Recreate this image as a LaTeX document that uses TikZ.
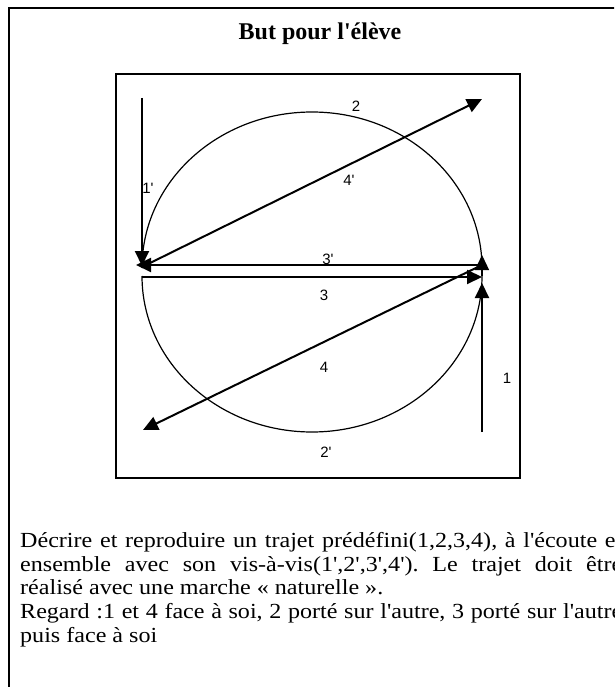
\documentclass[tikz,border=0pt]{standalone}
\usepackage{fontspec}
\newfontfamily\serifplain{Liberation Serif}
\newfontfamily\parafont{Liberation Serif}[FakeStretch=1.12]
\newfontfamily\labelfont{Liberation Sans}
\usetikzlibrary{arrows.meta}
\begin{document}
\begin{tikzpicture}[x=1pt,y=-1pt,
  framestyle/.style={line width=1.5pt},
  boxstyle/.style={line width=1.8pt},
  patharrow/.style={line width=2pt,-{Triangle[length=15pt,width=14pt]}},
  arcline/.style={line width=1.2pt},
  lbl/.style={font=\labelfont\fontsize{15}{15}\selectfont,inner sep=0pt}]
\useasboundingbox (0,0) rectangle (614,687);
\clip (0,0) rectangle (614,687);
% outer frame (cut by the page edges)
\draw[framestyle] (9,700) -- (9,8) -- (630,8);
% title
\node[font=\serifplain\bfseries\fontsize{24}{24}\selectfont,anchor=base,inner sep=0pt] (title) at (320,40) {But pour l'élève};
% inner box
\draw[boxstyle] (116,74) rectangle (520,478);
% coordinates
\coordinate (top1p) at (142,98);
\coordinate (Lj) at (142,266);
\coordinate (Rj) at (482,265);
\coordinate (Ltip) at (136,265);
\coordinate (L3) at (142,277);
\coordinate (R3) at (482,277);
\coordinate (bot1) at (482,432);
\coordinate (R1tip) at (482,283);
\coordinate (L4p) at (142,267);
\coordinate (TR) at (482,99);
\coordinate (BL) at (143,430);
\coordinate (UR) at (482,268);
\coordinate (DL) at (142,276);
\coordinate (DR) at (482,276);
\coordinate (R2ptip) at (482,255);
% arcs 2 and 2'
\draw[arcline] (UR) arc[start angle=0,end angle=180,x radius=170pt,y radius=156pt];
\draw[arcline] (DL) arc[start angle=180,end angle=360,x radius=170pt,y radius=156pt];
\draw[patharrow,line width=1.2pt] (DR) -- (R2ptip);
% straight moves
\draw[patharrow] (top1p) -- (Lj);   % 1'
\draw[patharrow] (Rj) -- (Ltip);    % 3'
\draw[patharrow] (L3) -- (R3);      % 3
\draw[patharrow] (bot1) -- (R1tip); % 1
\draw[patharrow] (L4p) -- (TR);     % 4'
\draw[patharrow] (Rj) -- (BL);      % 4
% labels
\node[lbl] (l2) at (356,106) {2};
\node[lbl] (l4p) at (349,180) {4'};
\node[lbl] (l1p) at (148,188) {1'};
\node[lbl] (l3p) at (328,259) {3'};
\node[lbl] (l3) at (324,295) {3};
\node[lbl] (l4) at (324,367) {4};
\node[lbl] (l1) at (507,378) {1};
\node[lbl] (l2p) at (326,452) {2'};
% text
\node[anchor=north west,text width=602pt,align=justify,inner sep=0pt,
  font=\parafont\fontsize{21.5}{23.8}\selectfont] (para) at (20,532)
{\tolerance=10000\hbadness=10000\hyphenpenalty=10000\frenchspacing
Décrire et reproduire un trajet prédéfini(1,2,3,4), à l'écoute et\linebreak
ensemble avec son vis-à-vis(1',2',3',4'). Le trajet doit être\linebreak
réalisé avec une marche «~naturelle~».\par
Regard :1 et 4 face à soi, 2 porté sur l'autre, 3 porté sur l'autre\linebreak
puis face à soi};
\end{tikzpicture}
\end{document}
